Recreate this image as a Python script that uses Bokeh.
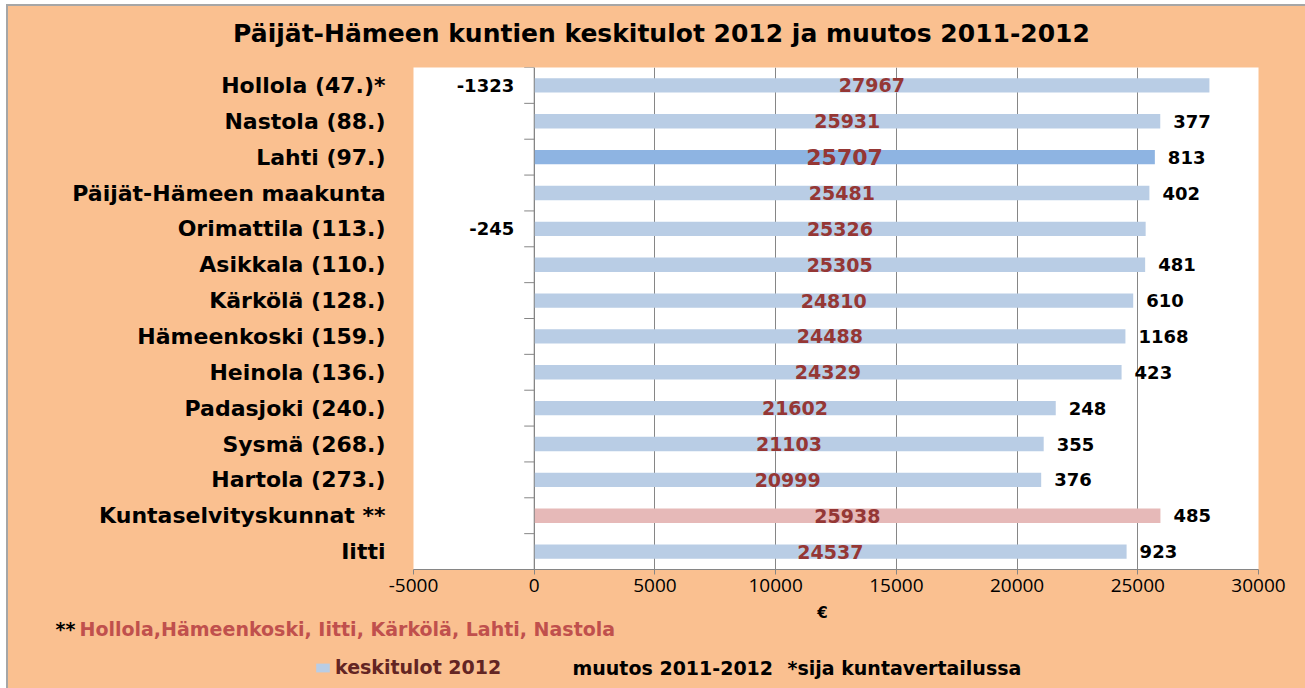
from bokeh.plotting import figure
from bokeh.layouts import column
from bokeh.models import (FactorRange, Range1d, FixedTicker, Span, Legend,
                          LegendItem, ColumnDataSource)
from bokeh.core.properties import value
from bokeh.embed import file_html
from bokeh.resources import INLINE

categories = ["Hollola (47.)*", "Nastola (88.)", "Lahti (97.)", "Päijät-Hämeen maakunta",
              "Orimattila (113.)", "Asikkala (110.)", "Kärkölä (128.)", "Hämeenkoski (159.)",
              "Heinola (136.)", "Padasjoki (240.)", "Sysmä (268.)", "Hartola (273.)",
              "Kuntaselvityskunnat **", "Iitti"]
keskitulot = [27967, 25931, 25707, 25481, 25326, 25305, 24810, 24488, 24329, 21602,
              21103, 20999, 25938, 24537]
muutos = [-1323, 377, 813, 402, -245, 481, 610, 1168, 423, 248, 355, 376, 485, 923]
x_ticks = [-5000, 0, 5000, 10000, 15000, 20000, 25000, 30000]

title_text = "Päijät-Hämeen kuntien keskitulot 2012 ja muutos 2011-2012"
foot_stars = "**"
foot_text = "Hollola,Hämeenkoski, Iitti, Kärkölä, Lahti, Nastola"
legend_bar = "keskitulot 2012"
legend_change = "muutos 2011-2012"
legend_rank = "*sija kuntavertailussa"
x_label = "€"

BG = "#FAC090"
BAR = "#B9CDE5"
BAR_LAHTI = "#8EB4E2"
BAR_KS = "#E6B9B8"
VAL_COLOR = "#953735"
GRID = "#868686"
EDGE = "#A6A6A6"
FONT = "DejaVu Sans"

X0, Y0 = 8, 6            # where the chart area starts inside its grey border
W = 1305 - X0
HEAD_H = 67 - Y0
FRAME_W, FRAME_H = 845, 502
MAIN_BOTTOM = 34
FOOT_TOP = 67 + FRAME_H + MAIN_BOTTOM
FOOT_H = 688 - FOOT_TOP
XMIN, XMAX = x_ticks[0], x_ticks[-1]
px_per_unit = FRAME_W / (XMAX - XMIN)


def blank(height, top):
    f = figure(width=W, height=height, x_range=Range1d(X0, X0 + W),
               y_range=Range1d(top + height, top), x_axis_type=None, y_axis_type=None,
               min_border=0, min_border_left=0, min_border_right=0,
               min_border_top=0, min_border_bottom=0, frame_align=False,
               output_backend="svg", toolbar_location=None)
    f.background_fill_color = BG
    f.border_fill_color = BG
    f.outline_line_color = None
    f.grid.visible = False
    return f


# ---------------- header ----------------
head = blank(HEAD_H, Y0)
head.text(x=[661], y=[33], text=[title_text], text_align="center", text_baseline="middle",
          text_font=value(FONT), text_font_style="bold", text_font_size="25px",
          text_color="#000000")

# ---------------- main chart ----------------
colors, vsizes = [], []
for c in categories:
    if c.startswith("Lahti"):
        colors.append(BAR_LAHTI)
        vsizes.append("22px")
    elif c.startswith("Kuntaselvitys"):
        colors.append(BAR_KS)
        vsizes.append("19px")
    else:
        colors.append(BAR)
        vsizes.append("19px")

src = ColumnDataSource(dict(
    cat=categories, val=keskitulot, mid=[v / 2 for v in keskitulot],
    vtext=[str(v) for v in keskitulot], color=colors, vsize=vsizes,
))
pos_idx = [i for i, m in enumerate(muutos) if m >= 0]
neg_idx = [i for i, m in enumerate(muutos) if m < 0]
pos_src = ColumnDataSource(dict(
    cat=[categories[i] for i in pos_idx], x=[keskitulot[i] for i in pos_idx],
    t=[str(muutos[i]) for i in pos_idx],
))
neg_src = ColumnDataSource(dict(
    cat=[categories[i] for i in neg_idx], x=[0 for i in neg_idx],
    t=[str(muutos[i]) for i in neg_idx],
))

p = figure(
    y_range=FactorRange(factors=list(reversed(categories))),
    x_range=Range1d(XMIN, XMAX),
    frame_width=FRAME_W, frame_height=FRAME_H,
    min_border_left=413 - X0, min_border_right=W - (413 - X0) - FRAME_W,
    min_border_top=0, min_border_bottom=MAIN_BOTTOM, frame_align=False,
    output_backend="svg", toolbar_location=None,
)
p.background_fill_color = "white"
p.border_fill_color = BG
p.outline_line_color = None

p.xgrid.ticker = FixedTicker(ticks=x_ticks)
p.xgrid.grid_line_color = GRID
p.ygrid.grid_line_color = None

p.xaxis.ticker = FixedTicker(ticks=x_ticks)
p.xaxis.major_label_overrides = {t: str(t) for t in x_ticks}
p.xaxis.axis_line_color = GRID
p.xaxis.major_tick_line_color = GRID
p.xaxis.major_tick_out = 5
p.xaxis.major_tick_in = 0
p.xaxis.minor_tick_line_color = None
p.xaxis.major_label_text_font = "Open Sans"
p.xaxis.major_label_text_font_size = "19px"
p.xaxis.major_label_text_color = "#000000"
p.xaxis.major_label_standoff = 4

p.yaxis.axis_line_color = None
p.yaxis.major_tick_line_color = None
p.yaxis.major_tick_out = 0
p.yaxis.major_tick_in = 0
p.yaxis.minor_tick_line_color = None
p.yaxis.major_label_standoff = 28
p.yaxis.major_label_text_font = FONT
p.yaxis.major_label_text_font_style = "bold"
p.yaxis.major_label_text_font_size = "22px"
p.yaxis.major_label_text_color = "#000000"

bars = p.hbar(y="cat", left=0, right="val", height=0.4, fill_color="color",
              line_color=None, source=src)

p.add_layout(Span(location=0, dimension="height", line_color=GRID, line_width=1))
tick_len = 10 / px_per_unit
bounds = list(range(len(categories) + 1))
p.segment(x0=[-tick_len] * len(bounds), x1=[0] * len(bounds), y0=bounds, y1=bounds,
          line_color=GRID, line_width=1)

p.text(x="mid", y="cat", text="vtext", source=src, text_align="center",
       text_baseline="middle", text_color=VAL_COLOR, text_font=value(FONT),
       text_font_style="bold", text_font_size="vsize")

p.text(x="x", y="cat", text="t", source=pos_src, x_offset=13, text_align="left",
       text_baseline="middle", text_color="#000000", text_font=value(FONT),
       text_font_style="bold", text_font_size="18px")
p.text(x="x", y="cat", text="t", source=neg_src, x_offset=-20, text_align="right",
       text_baseline="middle", text_color="#000000", text_font=value(FONT),
       text_font_style="bold", text_font_size="18px")

# ---------------- footer ----------------
foot = blank(FOOT_H, FOOT_TOP)
foot.text(x=[822], y=[612], text=[x_label], text_align="center", text_baseline="middle",
          text_font=value(FONT), text_font_style="bold", text_font_size="15px",
          text_color="#000000")
foot.text(x=[55], y=[628], text=[foot_stars], text_align="left", text_baseline="middle",
          text_font=value(FONT), text_font_style="bold", text_font_size="19px",
          text_color="#000000")
foot.text(x=[79], y=[628], text=[foot_text], text_align="left", text_baseline="middle",
          text_font=value(FONT), text_font_style="bold", text_font_size="19px",
          text_color="#C0504D")
swatch = foot.hbar(y=[float("nan")], right=[float("nan")], left=[float("nan")], height=1,
                   fill_color=BAR, line_color=None)
legend = Legend(items=[LegendItem(label=legend_bar, renderers=[swatch], index=0)],
                location=(314 - X0, 688 - 678), orientation="horizontal", padding=0,
                margin=0, border_line_color=None, background_fill_alpha=0, glyph_width=17,
                glyph_height=11, label_standoff=4, spacing=0, label_height=11,
                label_text_font=FONT, label_text_font_style="bold",
                label_text_font_size="19px", label_text_color="#632523")
foot.add_layout(legend, "center")
foot.text(x=[572], y=[667], text=[legend_change], text_align="left", text_baseline="middle",
          text_font=value(FONT), text_font_style="bold", text_font_size="19px",
          text_color="#000000")
foot.text(x=[787], y=[667], text=[legend_rank], text_align="left", text_baseline="middle",
          text_font=value(FONT), text_font_style="bold", text_font_size="19px",
          text_color="#000000")

layout = column(head, p, foot, spacing=0,
                styles={"background-color": BG,
                        "margin-left": "6px", "margin-top": "4px",
                        "border-left": "2px solid " + EDGE,
                        "border-top": "2px solid " + EDGE})
open("out.html", "w").write(file_html(layout, INLINE))
